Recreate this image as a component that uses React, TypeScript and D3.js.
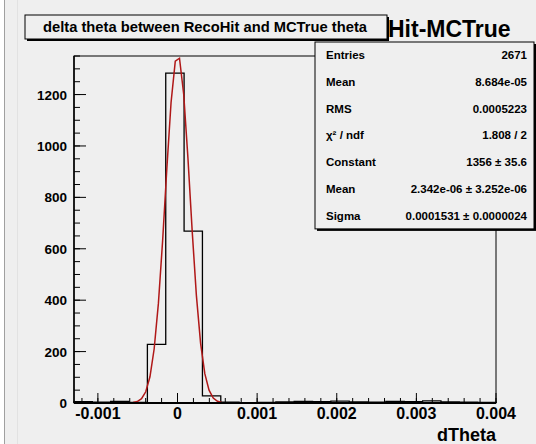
import * as d3 from 'd3';

// histogram: dTheta, 23 bins over [-0.0013, 0.004]
const histMin = -0.0013;
const histMax = 0.004;
const binCounts = [5, 3, 6, 2, 228, 1283, 669, 28, 3, 1, 2, 4, 6, 5, 7, 4, 3, 6, 5, 8, 4, 3, 2];

// gaussian fit parameters (from the stats box)
const fitConstant = 1356;
const fitMean = 2.342e-6;
const fitSigma = 0.0001531;

const xMajorTicks = [-0.001, 0, 0.001, 0.002, 0.003, 0.004];
const xTickLabels = ['-0.001', '0', '0.001', '0.002', '0.003', '0.004'];
const yMajorTicks = [0, 200, 400, 600, 800, 1000, 1200];

const statLabels = ['Entries', 'Mean', 'RMS', 'χ² / ndf', 'Constant', 'Mean', 'Sigma'];
const statValues = [
  '2671',
  '8.684e-05',
  '0.0005223',
  '1.808 / 2',
  '1356 ± 35.6',
  '2.342e-06 ± 3.252e-06',
  '0.0001531 ± 0.0000024',
];

const W = 536;
const H = 444;
const frame = { left: 74, right: 496, top: 56, bottom: 403 };
const font = '"Liberation Sans", Arial, sans-serif';
const bg = '#efefef';

export default function App() {
  const x = d3.scaleLinear().domain([histMin, histMax]).range([frame.left, frame.right]);
  const y = d3.scaleLinear().domain([0, 1350]).range([frame.bottom, frame.top]);
  const binW = (histMax - histMin) / binCounts.length;

  // step outline of the histogram
  const pts: [number, number][] = [[histMin, 0]];
  binCounts.forEach((c, i) => {
    pts.push([histMin + i * binW, c]);
    pts.push([histMin + (i + 1) * binW, c]);
  });
  pts.push([histMax, 0]);
  const histPath = d3.line<[number, number]>().x((d) => x(d[0])).y((d) => y(d[1]))(pts);

  // fit curve, sampled like ROOT's TF1 (100 points)
  const fitX = d3.range(0, 101).map((i) => histMin + (i * (histMax - histMin)) / 100);
  const fitPath = d3
    .line<number>()
    .x((d) => x(d))
    .y((d) => y(fitConstant * Math.exp(-0.5 * ((d - fitMean) / fitSigma) ** 2)))(fitX);

  const xMinor = d3.range(-0.0012, 0.00401, 0.0002).filter((v) => v >= histMin);
  const yMinor = d3.range(0, 1351, 50);

  const rowH = 26.7;
  const stats = { x0: 315, x1: 534, top: 42 };

  return (
    <svg width={W} height={H} style={{ position: 'absolute', left: 0, top: 0 }}>
      <rect x={0} y={0} width={W} height={H} fill="#ffffff" />
      <rect x={4} y={0} width={W - 4} height={H} fill={bg} />
      <line x1={4.5} x2={4.5} y1={0} y2={H} stroke="#a0a0a0" />
      <line x1={17.5} x2={17.5} y1={0} y2={H} stroke="#e2e2e2" />

      {/* ticks */}
      {yMinor.map((v) => (
        <line key={'ym' + v} x1={frame.left} x2={frame.left + 6} y1={y(v)} y2={y(v)} stroke="#000" />
      ))}
      {yMajorTicks.map((v) => (
        <line key={'yM' + v} x1={frame.left} x2={frame.left + 12} y1={y(v)} y2={y(v)} stroke="#000" />
      ))}
      {xMinor.map((v) => (
        <line key={'xm' + v} x1={x(v)} x2={x(v)} y1={frame.bottom} y2={frame.bottom - 5} stroke="#000" />
      ))}
      {xMajorTicks.map((v) => (
        <line key={'xM' + v} x1={x(v)} x2={x(v)} y1={frame.bottom} y2={frame.bottom - 10} stroke="#000" />
      ))}

      {/* histogram + fit */}
      <path d={histPath ?? ''} fill="none" stroke="#000" strokeWidth={1.3} />
      <path d={fitPath ?? ''} fill="none" stroke="#b01818" strokeWidth={1.5} />

      {/* frame */}
      <rect
        x={frame.left}
        y={frame.top}
        width={frame.right - frame.left}
        height={frame.bottom - frame.top}
        fill="none"
        stroke="#000"
      />
      <line x1={frame.left} x2={frame.right} y1={frame.bottom} y2={frame.bottom} stroke="#000" strokeWidth={2} />
      <line x1={frame.left} x2={frame.left} y1={frame.top} y2={frame.bottom} stroke="#000" strokeWidth={1.5} />

      {/* tick labels */}
      {yMajorTicks.map((v) => (
        <text
          key={'yl' + v}
          x={frame.left - 7}
          y={y(v) + 5}
          textAnchor="end"
          fontFamily={font}
          fontWeight="bold"
          fontSize={13.5}
        >
          {v}
        </text>
      ))}
      {xMajorTicks.map((v, i) => (
        <text
          key={'xl' + v}
          x={x(v)}
          y={frame.bottom + 16}
          textAnchor="middle"
          fontFamily={font}
          fontWeight="bold"
          fontSize={16}
        >
          {xTickLabels[i]}
        </text>
      ))}
      <text x={frame.right} y={441} textAnchor="end" fontFamily={font} fontWeight="bold" fontSize={18}>
        dTheta
      </text>

      {/* stats box */}
      <text x={388} y={37} fontFamily={font} fontWeight="bold" fontSize={23}>
        Hit-MCTrue
      </text>
      <rect x={stats.x0 + 2} y={stats.top + 2} width={stats.x1 - stats.x0} height={rowH * 7} fill="#000" />
      <rect x={stats.x0} y={stats.top} width={stats.x1 - stats.x0} height={rowH * 7} fill={bg} stroke="#000" />
      {statLabels.map((l, i) => (
        <g key={'st' + i} fontFamily={font} fontWeight="bold" fontSize={11.5}>
          <text x={stats.x0 + 11} y={stats.top + rowH * (i + 0.5) + 4}>
            {l}
          </text>
          <text x={stats.x1 - 7} y={stats.top + rowH * (i + 0.5) + 4} textAnchor="end">
            {statValues[i]}
          </text>
        </g>
      ))}

      {/* title box */}
      <rect x={27} y={17} width={362} height={24} fill="#000" />
      <rect x={25} y={15} width={362} height={24} fill={bg} stroke="#000" />
      <text
        x={43}
        y={32}
        textLength={324}
        lengthAdjust="spacingAndGlyphs"
        fontFamily={font}
        fontWeight="bold"
        fontSize={14}
      >
        delta theta between RecoHit and MCTrue theta
      </text>
    </svg>
  );
}
